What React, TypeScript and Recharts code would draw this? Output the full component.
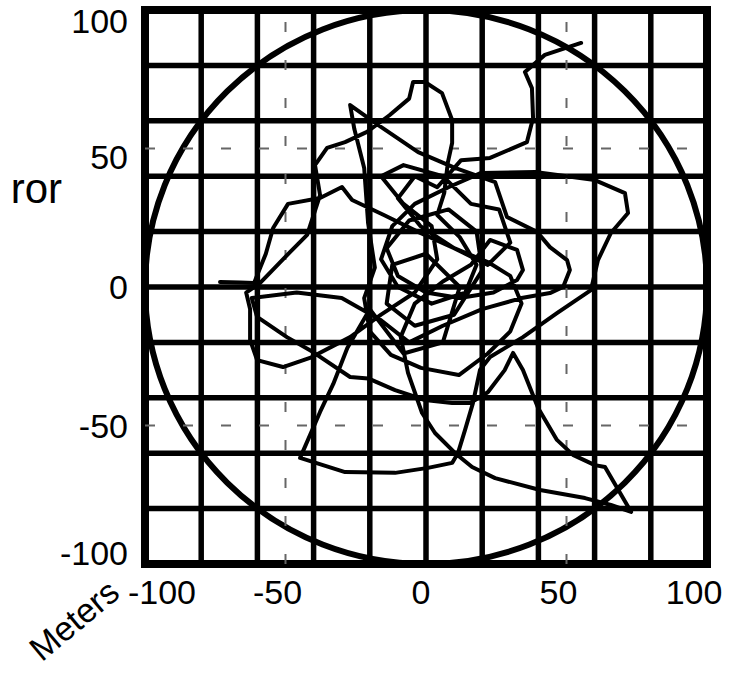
import React from 'react'
import { CartesianGrid, Line, LineChart, ReferenceLine, XAxis, YAxis, usePlotArea } from 'recharts'

// axis setup (meters)
const AXIS_MIN = -100
const AXIS_MAX = 100
const AXIS_TICKS = [-100, -50, 0, 50, 100]
const GRID_VALUES = [-100, -80, -60, -40, -20, 0, 20, 40, 60, 80, 100]
const DASH_VALUES = [-50, 50]
const CIRCLE_RADIUS = 100

// position track (meters)
const TRACK_X = [
  -73.3, -66, -61.2, -57, -54.4, -49.1, -37.7, -29.9, -26.3, -15, -3, 10, 22, 30, 34, 30, 22, 11.7, -1.8, -12.5,
  -20, -22, -18.2, -20.6, -22, -25.5, -27, -17.1, -2.8, 10.3, 24.6, 28.8, 39.5, 44.1, 50.2, 51.2, 48.8, 44.1, 34, 20,
  6, -6, -16, -30, -46, -62, -60.1, -49.5, -40.2, -27, -20.6, -11, -0.4, 9.3, 15.7, 22, 28, 31, 34.5, 39.9,
  46.6, 52.3, 60.1, 63.7, 73, 65.8, 56.6, 40.6, 24.6, 16.4, 10.3, 3.2, -1.4, -6.4, -9, -4, 6, 16, 22.8, 32.4,
  34.5, 32.4, 24, 12, 0, -10, -14, -6, 8, 18, 20, 10, -4, -14, -12, 0, 12, 6, -8, -20,
  -28, -33, -37.7, -44.8, -28.8, -11, 0.7, 9.3, 11.4, 13.9, 16.7, 19.2, 22.8,
  34.5, 46.6, 58.7, 61.2, 65.8, 71.9, 70.8, 60.1, 38.8, 19.6, 8, -4, -12, -16, -10, 2, 14, 18, 12, 4,
  6.5, 7.8, 9.3, 9.3, 5.7, -0.4, -4.6, -6, -13, -21, -28.8, -35.2, -39.5, -37.7, -42.3, -48.4, -59.1, -64, -62.6, -62.6,
  -60.1, -50.9, -41.3, -27, -16, -4, 4, 2, -8, -16, -8, 6, 16, 26, 30, 22, 10, -2, -10, -4, 4, 12.5, 22.8, 35.9,
  38.1, 37.7, 35.2, 42.3, 55.2,
]
const TRACK_Y = [
  1.8, 1.6, 1.4, 12, 21.3, 30, 32.1, 36.1, 31.4, 26, 20, 14, 9, 4, -6, -16, -24, -31.8, -29.2, -24.5,
  -16, -4, 7, 23, 43, 57, 65.7, 58.5, 48.7, 43, 37.9, 25.3, 19.9, 14.4, 9.7, 6.1, 0, -2.2, -4, -8,
  -14, -20, -12, -4, -2, -4, -10.8, -18.1, -23.5, -32.5, -33, -37.2, -40.8, -41.9, -41.9, -38, -30, -23.8, -30, -43.7,
  -55.2, -60.6, -64.3, -65, -81.2, -78.7, -76.2, -73.3, -69, -65, -59.9, -52.7, -45.5, -31, -18, -6, 2, 8, 17, 13.4,
  6.1, 2.5, -2, -4, -2, 4, 14, 24, 28, 20, 6, -10, -14, -6, 8, 12, 0, -20, -24, -8,
  -22, -35, -45.1, -61.7, -66.8, -67.1, -65.3, -63.5, -59.9, -51.6, -41.9, -30, -25.3,
  -18.1, -9.4, -1.1, 9.7, 19.5, 26.7, 33.9, 38.6, 41.5, 41.2, 36, 30, 22, 10, 0, -6, -2, 8, 18, 26,
  34, 45.1, 52, 60.3, 70, 74, 74, 68, 62, 56, 52.3, 50.2, 44, 33.2, 18.8, 12.6, 1.4, -2, -8, -19.1,
  -26.4, -28.9, -25.6, -18.1, -10, -2, 10, 22, 30, 40, 44, 40, 30, 28, 16, 8, 14, 22, 32, 40, 36, 45.8, 46.6, 52.3,
  61, 71.8, 77.6, 83.8, 88.1,
]

const track = TRACK_X.map((x, i) => ({ x, y: TRACK_Y[i] }))

const FONT = '"Liberation Sans", Arial, sans-serif'

// small label nudges so the tick text sits like the original
const X_TICK_SHIFT: Record<string, number> = { '-100': 17, '-50': -8, '0': -5, '50': -8, '100': -13 }
const Y_TICK_SHIFT: Record<string, number> = { '100': 11, '50': 8, '0': 0, '-50': 0, '-100': -11 }

const XTick = (props: any) => {
  const { x, y, payload } = props
  const dx = X_TICK_SHIFT[String(payload.value)] ?? 0
  return (
    <text x={x + dx} y={y} dy="0.71em" textAnchor="middle" fontSize={34} fontFamily={FONT} fill="#000">
      {payload.value}
    </text>
  )
}

const YTick = (props: any) => {
  const { x, y, payload } = props
  const dy = Y_TICK_SHIFT[String(payload.value)] ?? 0
  return (
    <text x={x} y={y + dy} dy="0.355em" textAnchor="end" fontSize={34} fontFamily={FONT} fill="#000">
      {payload.value}
    </text>
  )
}

// range circle + heavy frame, sized from the plot area
const RangeCircle = () => {
  const area = usePlotArea()
  if (!area) return null
  const span = AXIS_MAX - AXIS_MIN
  const rx = (area.width * CIRCLE_RADIUS) / span
  const ry = (area.height * CIRCLE_RADIUS) / span
  return (
    <g>
      <ellipse
        cx={area.x + area.width / 2}
        cy={area.y + area.height / 2}
        rx={rx}
        ry={ry}
        fill="none"
        stroke="#000"
        strokeWidth={6}
      />
      <rect x={area.x} y={area.y} width={area.width} height={area.height} fill="none" stroke="#000" strokeWidth={8} />
    </g>
  )
}

const App = () => {
  return (
    <div style={{ position: 'absolute', left: 0, top: 0, width: 737, height: 673, background: '#fff' }}>
      <LineChart width={737} height={673} data={track} margin={{ top: 10, right: 30, bottom: 69, left: 0 }}>
        <CartesianGrid
          horizontalValues={GRID_VALUES}
          verticalValues={GRID_VALUES}
          stroke="#000"
          strokeWidth={5.5}
          strokeDasharray=""
        />
        {DASH_VALUES.map(v => (
          <ReferenceLine key={`x${v}`} x={v} stroke="#666" strokeWidth={2} strokeDasharray="10 28" />
        ))}
        {DASH_VALUES.map(v => (
          <ReferenceLine key={`y${v}`} y={v} stroke="#666" strokeWidth={2} strokeDasharray="10 28" />
        ))}
        <XAxis
          type="number"
          dataKey="x"
          domain={[AXIS_MIN, AXIS_MAX]}
          ticks={AXIS_TICKS}
          interval={0}
          axisLine={false}
          tickLine={false}
          tickSize={0}
          tickMargin={16}
          height={40}
          tick={<XTick />}
          allowDataOverflow
        />
        <YAxis
          type="number"
          domain={[AXIS_MIN, AXIS_MAX]}
          ticks={AXIS_TICKS}
          interval={0}
          axisLine={false}
          tickLine={false}
          tickSize={0}
          tickMargin={17}
          width={145}
          tick={<YTick />}
          allowDataOverflow
        />
        <RangeCircle />
        <Line
          type="linear"
          dataKey="y"
          stroke="#000"
          strokeWidth={4}
          strokeLinejoin="round"
          strokeLinecap="round"
          dot={false}
          activeDot={false}
          isAnimationActive={false}
        />
      </LineChart>
      <svg width={737} height={673} style={{ position: 'absolute', left: 0, top: 0, pointerEvents: 'none' }}>
        <text x={62} y={203} textAnchor="end" fontSize={42} fontFamily={FONT} fill="#000">
          ror
        </text>
        <text
          x={74}
          y={620}
          textAnchor="middle"
          dy="0.35em"
          fontSize={34}
          fontFamily={FONT}
          fill="#000"
          transform="rotate(-40 74 620)"
        >
          Meters
        </text>
      </svg>
    </div>
  )
}

export default App
